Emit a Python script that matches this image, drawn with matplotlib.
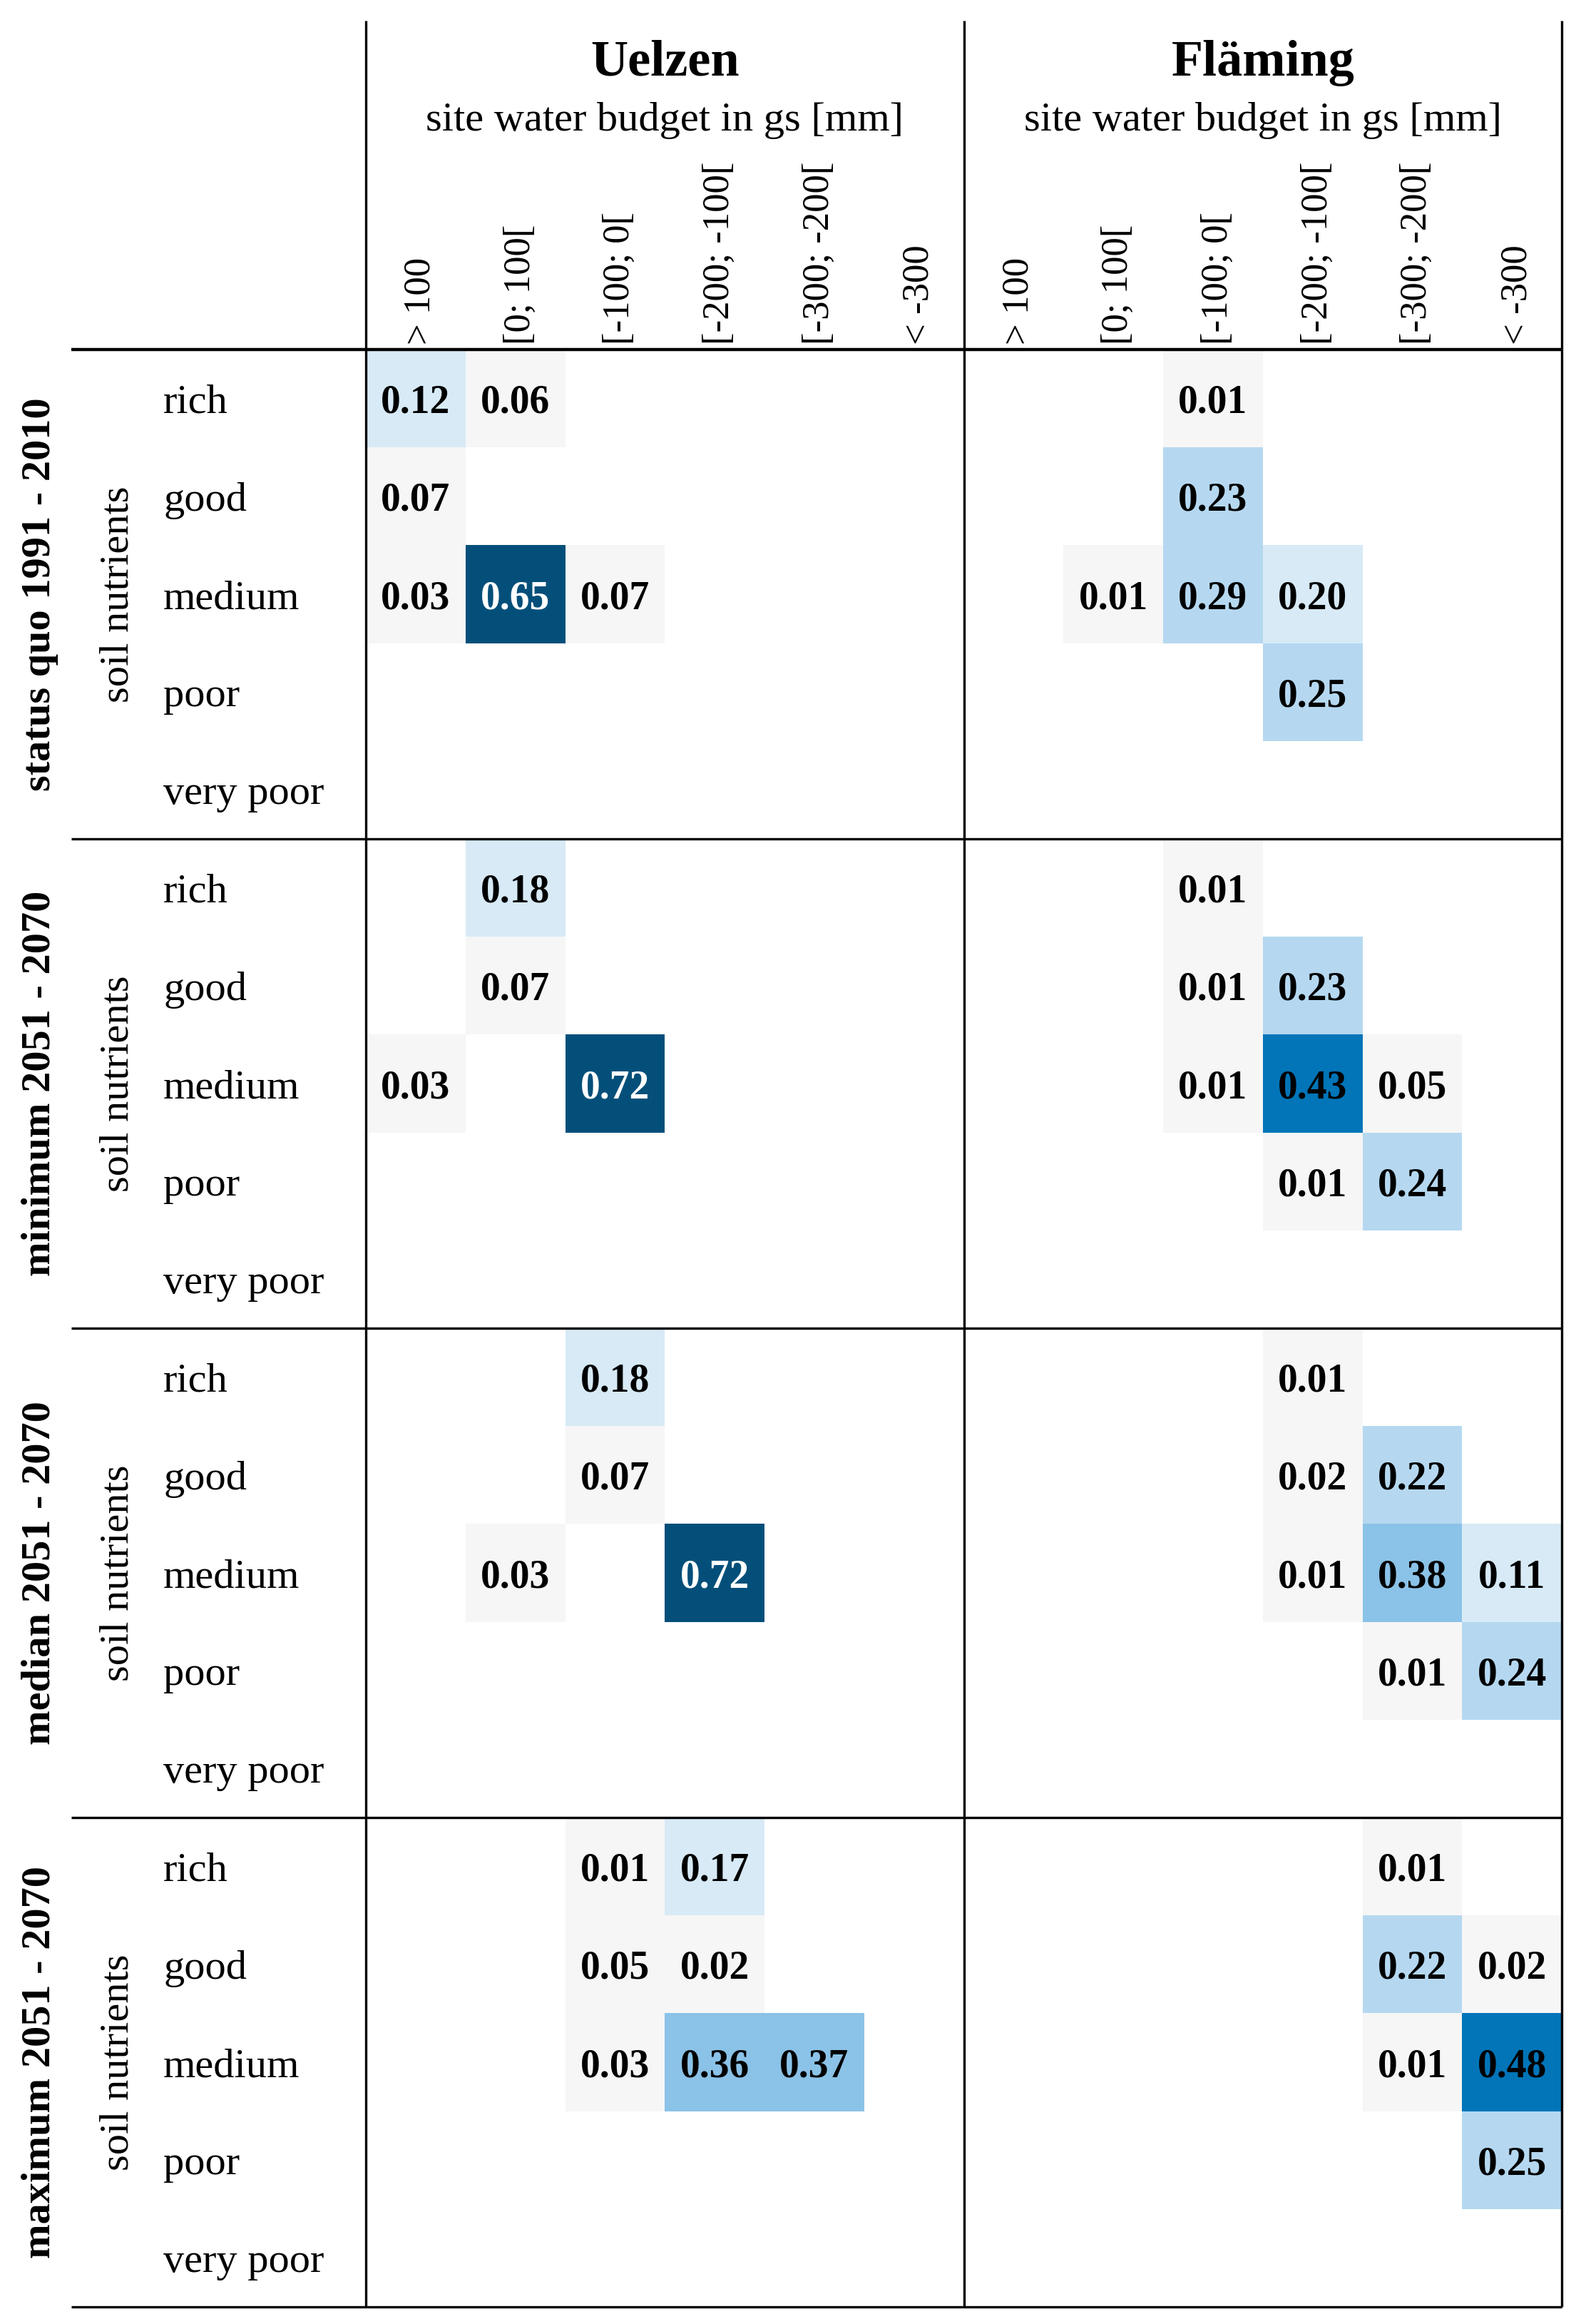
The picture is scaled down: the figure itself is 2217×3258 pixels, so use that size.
import matplotlib
matplotlib.use("Agg")
import matplotlib.pyplot as plt
import numpy as np
from matplotlib.colors import ListedColormap, BoundaryNorm

plt.rcParams['font.family'] = ['Liberation Serif', 'DejaVu Serif']

n = np.nan

regions = ["Uelzen", "Fläming"]
scenarios = ["status quo 1991 - 2010", "minimum 2051 - 2070",
             "median 2051 - 2070", "maximum 2051 - 2070"]
nutrients = ["rich", "good", "medium", "poor", "very poor"]
budget_bins = ["> 100", "[0; 100[", "[-100; 0[", "[-200; -100[", "[-300; -200[", "< -300"]

# rows = nutrients, columns = budget_bins
uelzen_status = [[0.12, 0.06, n, n, n, n],
                 [0.07, n, n, n, n, n],
                 [0.03, 0.65, 0.07, n, n, n],
                 [n, n, n, n, n, n],
                 [n, n, n, n, n, n]]
uelzen_min = [[n, 0.18, n, n, n, n],
              [n, 0.07, n, n, n, n],
              [0.03, n, 0.72, n, n, n],
              [n, n, n, n, n, n],
              [n, n, n, n, n, n]]
uelzen_med = [[n, n, 0.18, n, n, n],
              [n, n, 0.07, n, n, n],
              [n, 0.03, n, 0.72, n, n],
              [n, n, n, n, n, n],
              [n, n, n, n, n, n]]
uelzen_max = [[n, n, 0.01, 0.17, n, n],
              [n, n, 0.05, 0.02, n, n],
              [n, n, 0.03, 0.36, 0.37, n],
              [n, n, n, n, n, n],
              [n, n, n, n, n, n]]

flaeming_status = [[n, n, 0.01, n, n, n],
                   [n, n, 0.23, n, n, n],
                   [n, 0.01, 0.29, 0.20, n, n],
                   [n, n, n, 0.25, n, n],
                   [n, n, n, n, n, n]]
flaeming_min = [[n, n, 0.01, n, n, n],
                [n, n, 0.01, 0.23, n, n],
                [n, n, 0.01, 0.43, 0.05, n],
                [n, n, n, 0.01, 0.24, n],
                [n, n, n, n, n, n]]
flaeming_med = [[n, n, n, 0.01, n, n],
                [n, n, n, 0.02, 0.22, n],
                [n, n, n, 0.01, 0.38, 0.11],
                [n, n, n, n, 0.01, 0.24],
                [n, n, n, n, n, n]]
flaeming_max = [[n, n, n, n, 0.01, n],
                [n, n, n, n, 0.22, 0.02],
                [n, n, n, n, 0.01, 0.48],
                [n, n, n, n, n, 0.25],
                [n, n, n, n, n, n]]

uelzen = [uelzen_status, uelzen_min, uelzen_med, uelzen_max]
flaeming = [flaeming_status, flaeming_min, flaeming_med, flaeming_max]

colors = ["#f6f6f6", "#d7eaf6", "#b5d8f0", "#8bc2e7", "#0175b8", "#034f7a"]
bounds = [0, 0.1, 0.205, 0.3, 0.4, 0.5, 1.0]
cmap = ListedColormap(colors)
norm = BoundaryNorm(bounds, cmap.N)

W, H = 2217, 3258
fig = plt.figure(figsize=(W / 200, H / 200), dpi=200)
# table body in pixels: x 513..2190, y 490..3234
x0, x1, y0, y1 = 513, 2190, 490, 3234
ax = fig.add_axes([x0 / W, 1 - y1 / H, (x1 - x0) / W, (y1 - y0) / H])
ax.set_xlim(0, 12)
ax.set_ylim(20, 0)
ax.axis("off")

cw = (x1 - x0) / 12.0
ch = (y1 - y0) / 20.0

def px2x(p):
    return (p - x0) / cw

def px2y(p):
    return (p - y0) / ch

for r, blocks in enumerate([uelzen, flaeming]):
    for b, tab in enumerate(blocks):
        data = np.ma.masked_invalid(np.array(tab))
        xe = np.arange(7) + 6 * r
        ye = np.arange(6) + 5 * b
        ax.pcolormesh(xe, ye, data, cmap=cmap, norm=norm)
        for i in range(5):
            for j in range(6):
                v = tab[i][j]
                if np.isnan(v):
                    continue
                c = "white" if v >= 0.5 else "black"
                ax.text(6 * r + j + 0.5, 5 * b + i + 0.5, "%.2f" % v,
                        ha="center", va="center_baseline", fontsize=20,
                        fontweight="bold", color=c)

# column labels and region headers
for r, name in enumerate(regions):
    for j, lab in enumerate(budget_bins):
        ax.text(6 * r + j + 0.55, -0.05, lab, rotation=90, ha="center",
                va="bottom", fontsize=19, clip_on=False)
    ax.text(6 * r + 3, px2y(106), name, ha="center", va="baseline",
            fontsize=26, fontweight="bold", clip_on=False)
    ax.text(6 * r + 3, px2y(183), "site water budget in gs [mm]",
            ha="center", va="baseline", fontsize=21, clip_on=False)

# row labels
for b, sc in enumerate(scenarios):
    for i, lab in enumerate(nutrients):
        ax.text(px2x(229), 5 * b + i + 0.5, lab, ha="left",
                va="center_baseline", fontsize=21, clip_on=False)
    ax.text(px2x(166), 5 * b + 2.5, "soil nutrients", rotation=90,
            ha="center", va="center", fontsize=21, clip_on=False)
    ax.text(px2x(56), 5 * b + 2.5, sc, rotation=90, ha="center",
            va="center", fontsize=21, fontweight="bold", clip_on=False)

# rules
ax.plot([px2x(100), 12], [0, 0], color="black", lw=1.6, clip_on=False,
        solid_capstyle="butt")
for yb in [5, 10, 15, 20]:
    ax.plot([px2x(100), 12], [yb, yb], color="black", lw=1.2, clip_on=False,
            solid_capstyle="butt")
for xb in [0, 6, 12]:
    ax.plot([xb, xb], [px2y(29), 20], color="black", lw=1.2, clip_on=False,
            solid_capstyle="butt")

plt.savefig("out.png", dpi=200)
